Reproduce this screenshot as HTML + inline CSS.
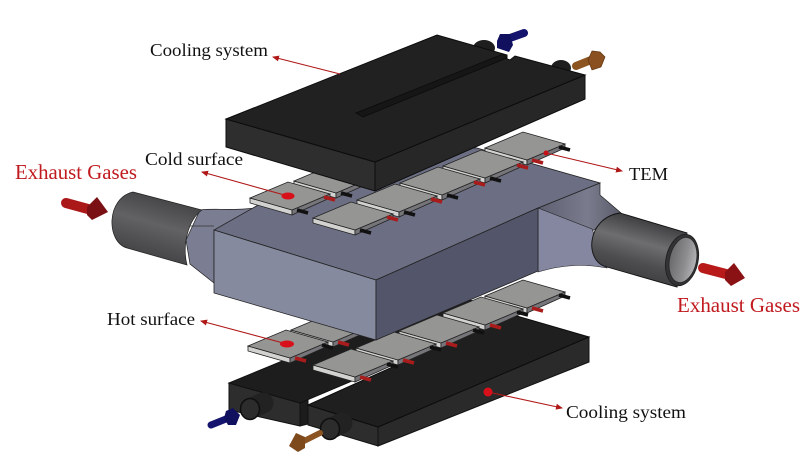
<!DOCTYPE html>
<html><head><meta charset="utf-8"><style>
html,body{margin:0;padding:0;background:#fff}
svg{display:block}
text{font-family:"Liberation Serif",serif}
</style></head><body>
<svg width="810" height="472" viewBox="0 0 810 472" xmlns="http://www.w3.org/2000/svg">
<defs>
<linearGradient id="tubeL" x1="0.35" y1="0" x2="0" y2="1"><stop offset="0" stop-color="#454547"/><stop offset=".35" stop-color="#626264"/><stop offset=".6" stop-color="#505052"/><stop offset="1" stop-color="#363638"/></linearGradient>
<linearGradient id="tubeR" x1="0.35" y1="0" x2="0" y2="1"><stop offset="0" stop-color="#3c3c3e"/><stop offset=".3" stop-color="#6e6e70"/><stop offset=".55" stop-color="#4e4e50"/><stop offset="1" stop-color="#2e2e30"/></linearGradient>
<linearGradient id="inner" x1="0" y1="0" x2="1" y2="0"><stop offset="0" stop-color="#6a6a6c"/><stop offset=".6" stop-color="#8e8e90"/><stop offset="1" stop-color="#b4b4b6"/></linearGradient>
<linearGradient id="transR" x1="0" y1="0" x2="1" y2="0"><stop offset="0" stop-color="#5e6072"/><stop offset=".6" stop-color="#7a7c8e"/><stop offset="1" stop-color="#5a5c6a"/></linearGradient>
<marker id="ah" markerWidth="7" markerHeight="6" refX="6" refY="3" orient="auto" markerUnits="userSpaceOnUse"><path d="M0 0L7 3L0 6Z" fill="#b01818"/></marker>
<g id="mod">
<path d="M0 0L42 12L42 17L0 5Z" fill="#d2d2d0" stroke="#222" stroke-width=".8"/>
<path d="M42 12L80 -4L80 0L42 17Z" fill="#75757a" stroke="#222" stroke-width=".8"/>
<path d="M0 0L38 -16L80 -4L42 12Z" fill="#959594" stroke="#222" stroke-width=".8"/>
<path d="M47 12L58 15" stroke="#111" stroke-width="3.6"/>
<path d="M74 -1L85 2" stroke="#a81c1c" stroke-width="3.6"/>
</g>
<g id="modB">
<path d="M0 0L42 12L42 17L0 5Z" fill="#d2d2d0" stroke="#222" stroke-width=".8"/>
<path d="M42 12L80 -4L80 0L42 17Z" fill="#75757a" stroke="#222" stroke-width=".8"/>
<path d="M0 0L38 -16L80 -4L42 12Z" fill="#959594" stroke="#222" stroke-width=".8"/>
<path d="M47 12L58 15" stroke="#a81c1c" stroke-width="3.6"/>
<path d="M74 -1L85 2" stroke="#111" stroke-width="3.6"/>
</g>
</defs>
<rect width="810" height="472" fill="#fff"/>

<!-- bottom cooling plates -->
<path d="M229 383L300 403L300 426L229 410Z" fill="#2d2d2d" stroke="#111"/>
<path d="M300 403L308 400L308 424L300 426Z" fill="#1c1c1c" stroke="#111"/>
<path d="M229 383L370 325L470 300L510 314L300 403Z" fill="#1d1d1d" stroke="#111"/>
<path d="M252 408L263 403" stroke="#222" stroke-width="21" stroke-linecap="round"/>
<ellipse cx="250" cy="409" rx="9.5" ry="10.5" fill="#2c2c2c" stroke="#0e0e0e" stroke-width="1.5"/>
<path d="M308 405L378 427L378 446L308 425Z" fill="#2d2d2d" stroke="#111"/>
<path d="M378 427L589 337L589 362L378 446Z" fill="#2a2a2a" stroke="#111"/>
<path d="M308 405L510 314L589 337L378 427Z" fill="#1f1f1f" stroke="#0c0c0c"/>
<path d="M332 428L342 423" stroke="#222" stroke-width="21" stroke-linecap="round"/>
<ellipse cx="330" cy="429" rx="9.5" ry="10.5" fill="#2c2c2c" stroke="#0e0e0e" stroke-width="1.5"/>

<!-- bottom modules -->
<use href="#modB" x="291" y="330"/>
<use href="#modB" x="248" y="346"/>
<use href="#modB" x="485" y="296"/>
<use href="#modB" x="443" y="313"/>
<use href="#modB" x="399" y="331"/>
<use href="#modB" x="356" y="348"/>
<use href="#modB" x="313" y="365"/>

<!-- left tube + transition -->
<path d="M200 210C215 208 230 211 256 208L214 232L214 283L190 264L186 240Z" fill="#7b7e92" stroke="#222" stroke-width=".7"/>
<path d="M187 226L214 226" stroke="#333" stroke-width=".7"/>
<path d="M133 192L202 210C188 220 182 245 187 265L127 248C106 242 106 198 133 192Z" fill="url(#tubeL)" stroke="#222" stroke-width=".7"/>

<!-- right transition + tube -->
<path d="M538 208L600 183L600 195L621 213L592 231Z" fill="url(#transR)" stroke="#222" stroke-width=".7"/>
<path d="M538 208L592 229L607 268C585 264 565 264 538 272Z" fill="#8587a0" stroke="#222" stroke-width=".6"/>
<path d="M620 213L687 233L677 287L607 267C584 262 586 218 620 213Z" fill="url(#tubeR)" stroke="#111" stroke-width=".9"/>
<ellipse cx="682" cy="260" rx="16" ry="26" transform="rotate(12 682 260)" fill="#333335" stroke="#222"/>
<ellipse cx="683" cy="260" rx="13.5" ry="23" transform="rotate(12 683 260)" fill="url(#inner)" stroke="#2a2a2a" stroke-width="1"/>

<!-- duct -->
<path d="M214 230L376 280L538 208L600 183L477 148L400 145L320 170Z" fill="#6c6f83" stroke="#222" stroke-width=".8"/>
<path d="M214 230L376 280L376 340L214 293Z" fill="#858a9f" stroke="#222" stroke-width=".8"/>
<path d="M376 280L538 208L538 271L376 340Z" fill="#53556a" stroke="#222" stroke-width=".8"/>

<!-- top modules -->
<use href="#mod" x="294" y="181"/>
<use href="#mod" x="250" y="198"/>
<use href="#modB" x="485" y="148"/>
<use href="#mod" x="443" y="166"/>
<use href="#mod" x="400" y="183"/>
<use href="#mod" x="357" y="200"/>
<use href="#mod" x="313" y="218"/>

<!-- top cooling plate ports (behind) -->
<ellipse cx="484" cy="48" rx="11" ry="8" fill="#1e1e1e"/>
<ellipse cx="561" cy="68" rx="10" ry="8" fill="#1e1e1e"/>
<!-- top plate -->
<path d="M226 119L375 162L375 191L226 147Z" fill="#2e2e2e" stroke="#0c0c0c"/>
<path d="M375 162L585 75L585 99L375 191Z" fill="#272727" stroke="#0c0c0c"/>
<path d="M226 119L437 35L507 55L507 59L510 60L515 56L585 75L375 162Z" fill="#212121" stroke="#0c0c0c"/>
<path d="M356 113L503 54L507 58L363 117Z" fill="#161616" stroke="#0a0a0a" stroke-width=".7"/>

<!-- blue / orange arrows -->
<path d="M510 38L524 33" stroke="#14146e" stroke-width="8" stroke-linecap="round" fill="none"/>
<path d="M500 34L510 34L513 45L509 52L497 48L497 41Z" fill="#10105e"/>
<path d="M576 66L591 60" stroke="#8c5420" stroke-width="8" stroke-linecap="round"/>
<path d="M592 51L600 52L605 57L601 67L592 70L588 60Z" fill="#8a5020" stroke="#5e3410" stroke-width=".7"/>
<path d="M211 425L226 419" stroke="#14146e" stroke-width="7" stroke-linecap="round"/>
<path d="M226 411L233 408L240 415L236 425L228 425L224 418Z" fill="#10105e"/>
<path d="M304 441L320 433" stroke="#8c5420" stroke-width="6" stroke-linecap="round"/>
<path d="M296 433L305 437L305 448L298 452L289 446Z" fill="#7e4a1c"/>

<!-- red arrows -->
<path d="M66 203L88 209" stroke="#aa1818" stroke-width="10" stroke-linecap="round"/>
<path d="M87 207L97 197L108 212L92 220L87 215Z" fill="#7a1014"/>
<path d="M703 268L726 274" stroke="#b81a1a" stroke-width="10" stroke-linecap="round"/>
<path d="M725 272L734 263L745 278L731 286L725 280Z" fill="#8a1214"/>

<!-- leaders -->
<g stroke="#b01818" stroke-width="1.1" fill="none">
<path d="M340 74L273 57" marker-end="url(#ah)"/>
<path d="M288 196L202 172" marker-end="url(#ah)"/>
<path d="M287 344L201 321" marker-end="url(#ah)"/>
<path d="M546 153L622 171" marker-end="url(#ah)"/>
<path d="M488 392L562 408" marker-end="url(#ah)"/>
</g>
<ellipse cx="288" cy="196" rx="6.5" ry="3.5" fill="#d8101a"/>
<ellipse cx="287" cy="344" rx="7" ry="3.5" fill="#d8101a"/>
<circle cx="546" cy="153" r="2.5" fill="#c81018"/>
<circle cx="488" cy="392" r="4.5" fill="#d8101a"/>

<!-- labels -->
<text x="150" y="56" font-size="18" textLength="118" lengthAdjust="spacingAndGlyphs" fill="#111">Cooling system</text>
<text x="145" y="165" font-size="18" textLength="98" lengthAdjust="spacingAndGlyphs" fill="#111">Cold surface</text>
<text x="15" y="179" font-size="21" textLength="122" lengthAdjust="spacingAndGlyphs" fill="#c01a1f">Exhaust Gases</text>
<text x="629" y="180" font-size="18" textLength="39" lengthAdjust="spacingAndGlyphs" fill="#111">TEM</text>
<text x="677" y="312" font-size="21" textLength="123" lengthAdjust="spacingAndGlyphs" fill="#c01a1f">Exhaust Gases</text>
<text x="107" y="325" font-size="18" textLength="88" lengthAdjust="spacingAndGlyphs" fill="#111">Hot surface</text>
<text x="566" y="418" font-size="18" textLength="120" lengthAdjust="spacingAndGlyphs" fill="#111">Cooling system</text>
</svg>
</body></html>
